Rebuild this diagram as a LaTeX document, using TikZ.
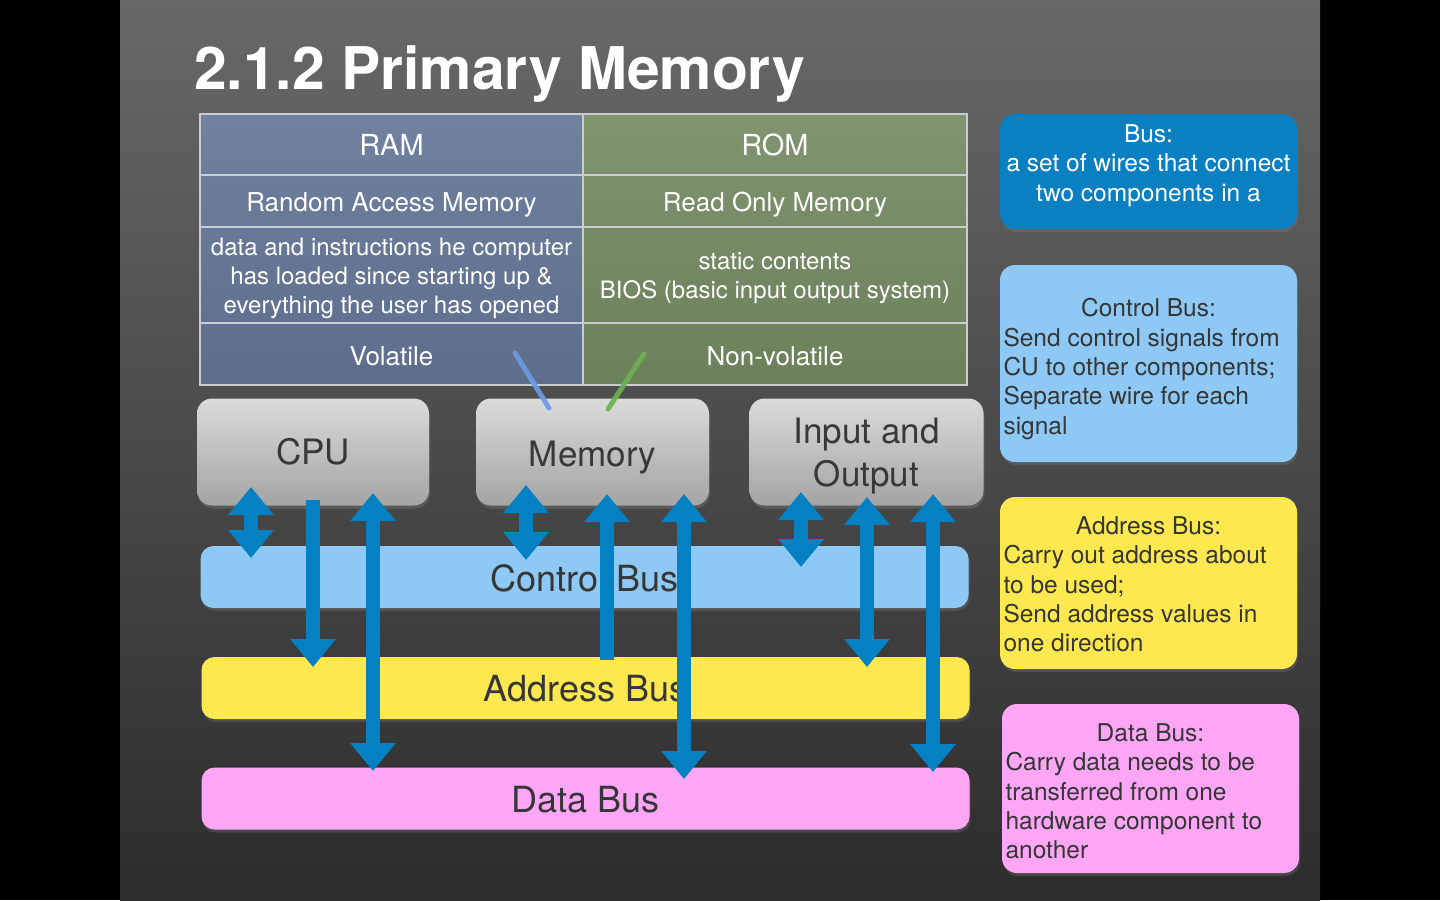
\documentclass[tikz,border=0pt]{standalone}
\usepackage{fontspec}
\setmainfont{TeX Gyre Heros}
\usetikzlibrary{arrows.meta,shadows}
\definecolor{bgtop}{HTML}{686868}
\definecolor{bgmid}{HTML}{464646}
\definecolor{bgbot}{HTML}{2C2C2C}
\definecolor{ramtop}{HTML}{7082A0}
\definecolor{rambot}{HTML}{5D6D8B}
\definecolor{romtop}{HTML}{80946F}
\definecolor{rombot}{HTML}{6B815A}
\definecolor{gridc}{HTML}{C9CDD2}
\definecolor{boxtop}{HTML}{DADADA}
\definecolor{boxbot}{HTML}{A4A4A4}
\definecolor{boxtxt}{HTML}{383838}
\definecolor{ctrlc}{HTML}{8EC8F5}
\definecolor{addrc}{HTML}{FEE84F}
\definecolor{datac}{HTML}{FDA6F6}
\definecolor{busdark}{HTML}{0A7FC1}
\definecolor{arrowc}{HTML}{0381C2}
\definecolor{darktxt}{HTML}{363636}
\definecolor{chalkb}{HTML}{6C9BE6}
\definecolor{chalkg}{HTML}{6DB152}
\begin{document}
\begin{tikzpicture}[x=1pt,y=-1pt,
  tabtxt/.style={text=white, inner sep=0pt, align=center},
  tabhead/.style={tabtxt, font=\fontsize{29}{34}\selectfont, text height=20.8pt, text depth=0pt},
  tabrow/.style={tabtxt, font=\fontsize{26}{31}\selectfont, text height=18.7pt, text depth=0pt},
  tabmulti/.style={tabtxt, font=\fontsize{24}{29}\selectfont},
  gridline/.style={draw=gridc, line width=1.2pt},
  graybox/.style={rounded corners=15pt, top color=boxtop, bottom color=boxbot, text=boxtxt,
    inner sep=0pt, font=\fontsize{35}{43}\selectfont, align=center,
    drop shadow={opacity=0.35, shadow xshift=1pt, shadow yshift=-3pt}},
  busbar/.style={rounded corners=13pt, inner sep=0pt, text=darktxt,
    font=\fontsize{36}{43}\selectfont, minimum width=768pt, minimum height=62pt,
    text depth=0pt,
    drop shadow={opacity=0.3, shadow xshift=1pt, shadow yshift=-3pt}},
  rbox/.style={rounded corners=15pt, inner sep=0pt, minimum width=297pt,
    font=\fontsize{24.5}{29.4}\selectfont,
    drop shadow={opacity=0.3, shadow xshift=1pt, shadow yshift=-3pt}},
  fat/.style={draw=arrowc, line width=14pt},
  >={Triangle[width=44pt,length=28pt]},
  chalk/.style={line width=5pt, line cap=round, opacity=0.9}
]
\useasboundingbox (0,0) rectangle (1440,900);
\fill[black] (0,0) rectangle (1440,900);
\shade[top color=bgtop, middle color=bgmid, bottom color=bgbot] (120,0) rectangle (1320,900);

% title
\node[anchor=base west, inner sep=0pt, text=white, font=\fontsize{58.8}{64}\bfseries] (title) at (194,89) {2.1.2 Primary Memory};

% table
\shade[top color=ramtop, bottom color=rambot] (200,114) rectangle (583,385);
\shade[top color=romtop, bottom color=rombot] (583,114) rectangle (967,385);
\draw[gridline] (200,114) rectangle (967,385);
\draw[gridline] (583,114) -- (583,385);
\draw[gridline] (200,175) -- (967,175);
\draw[gridline] (200,227) -- (967,227);
\draw[gridline] (200,323) -- (967,323);

\node[tabhead] (ram) at (391.5,145) {RAM};
\node[tabhead] (rom) at (775,145) {ROM};
\node[tabrow] (ramfull) at (391.5,202) {Random Access Memory};
\node[tabrow] (romfull) at (775,202) {Read Only Memory};
\node[tabmulti] (ramdesc) at (391.5,278) {data and instructions he computer\\has loaded since starting up \&\\everything the user has opened};
\node[tabmulti] (romdesc) at (775,278) {static contents\\BIOS (basic input output system)};
\node[tabrow] (vol) at (391.5,356) {Volatile};
\node[tabrow] (nonvol) at (775,356) {Non-volatile};

% components
\node[graybox, minimum width=232pt, minimum height=107pt, text height=25.2pt, text depth=0pt] (cpu) at (313,452) {CPU};
\node[graybox, minimum width=233pt, minimum height=107pt, text height=29.2pt, text depth=0pt] (mem) at (592.5,452) {Memory};
\node[graybox, minimum width=234pt, minimum height=107pt] (io) at (866.5,452)
  {\parbox[c][107pt][t]{232pt}{\fontsize{35}{43}\selectfont\vspace*{19.4pt}\centering Input and\\Output}};

% chalk lines from table to memory
\coordinate (cb1) at (515,353);
\coordinate (cb2) at (549,408);
\coordinate (cg1) at (644,354);
\coordinate (cg2) at (608,409);
\draw[chalk, draw=chalkb] (cb1) -- (cb2);
\draw[chalk, draw=chalkg] (cg1) -- (cg2);

% buses
\node[busbar, fill=ctrlc, text height=29.9pt] (cbus) at (584.5,577) {Control Bus};
\node[busbar, fill=addrc, text height=27.9pt] (abus) at (585.5,688) {Address Bus};
\node[busbar, fill=datac, text height=27.9pt] (dbus) at (585.5,798.5) {Data Bus};

% arrows
\coordinate (a1t) at (251,487);  \coordinate (a1b) at (251,558);
\coordinate (a2t) at (313,500);  \coordinate (a2b) at (313,667);
\coordinate (a3t) at (373,493);  \coordinate (a3b) at (373,771);
\coordinate (a4t) at (526,485);  \coordinate (a4b) at (526,560);
\coordinate (a5t) at (607,494);  \coordinate (a5b) at (607,660);
\coordinate (a6t) at (684,494);  \coordinate (a6b) at (684,779);
\coordinate (a7t) at (801,492);  \coordinate (a7b) at (801,567);
\coordinate (a8t) at (867,497);  \coordinate (a8b) at (867,667);
\coordinate (a9t) at (933,494);  \coordinate (a9b) at (933,772);
\draw[fat,<->] (a1t) -- (a1b);
\draw[fat,->] (a2t) -- (a2b);
\draw[fat,<->] (a3t) -- (a3b);
\draw[fat,<->] (a4t) -- (a4b);
\draw[fat,->] (a5b) -- (a5t);
\draw[fat,<->] (a6t) -- (a6b);
\draw[fat,<->] (a7t) -- (a7b);
\draw[fat,<->] (a8t) -- (a8b);
\draw[fat,<->] (a9t) -- (a9b);

% right side definitions
\node[rbox, fill=busdark, text=white, minimum height=115pt] (busdef) at (1148.5,171.5)
  {\parbox[c][115pt][t]{290pt}{\vspace*{10.4pt}\centering Bus:\\a set of wires that connect\\two components in a}};
\node[rbox, fill=ctrlc, text=darktxt, minimum height=197pt] (ctrldef) at (1148.5,363.5)
  {\parbox[c][197pt][t]{290pt}{\vspace*{33.4pt}\raggedright\makebox[\linewidth][c]{Control Bus:}\\Send control signals from\\CU to other components;\\Separate wire for each\\signal}};
\node[rbox, fill=addrc, text=darktxt, minimum height=172pt] (addrdef) at (1148.5,583)
  {\parbox[c][172pt][t]{290pt}{\vspace*{19.4pt}\raggedright\makebox[\linewidth][c]{Address Bus:}\\Carry out address about\\to be used;\\Send address values in\\one direction}};
\node[rbox, fill=datac, text=darktxt, minimum height=169pt] (datadef) at (1150.5,788.5)
  {\parbox[c][169pt][t]{290pt}{\vspace*{19.4pt}\raggedright\makebox[\linewidth][c]{Data Bus:}\\Carry data needs to be\\transferred from one\\hardware component to\\another}};
\end{tikzpicture}
\end{document}
